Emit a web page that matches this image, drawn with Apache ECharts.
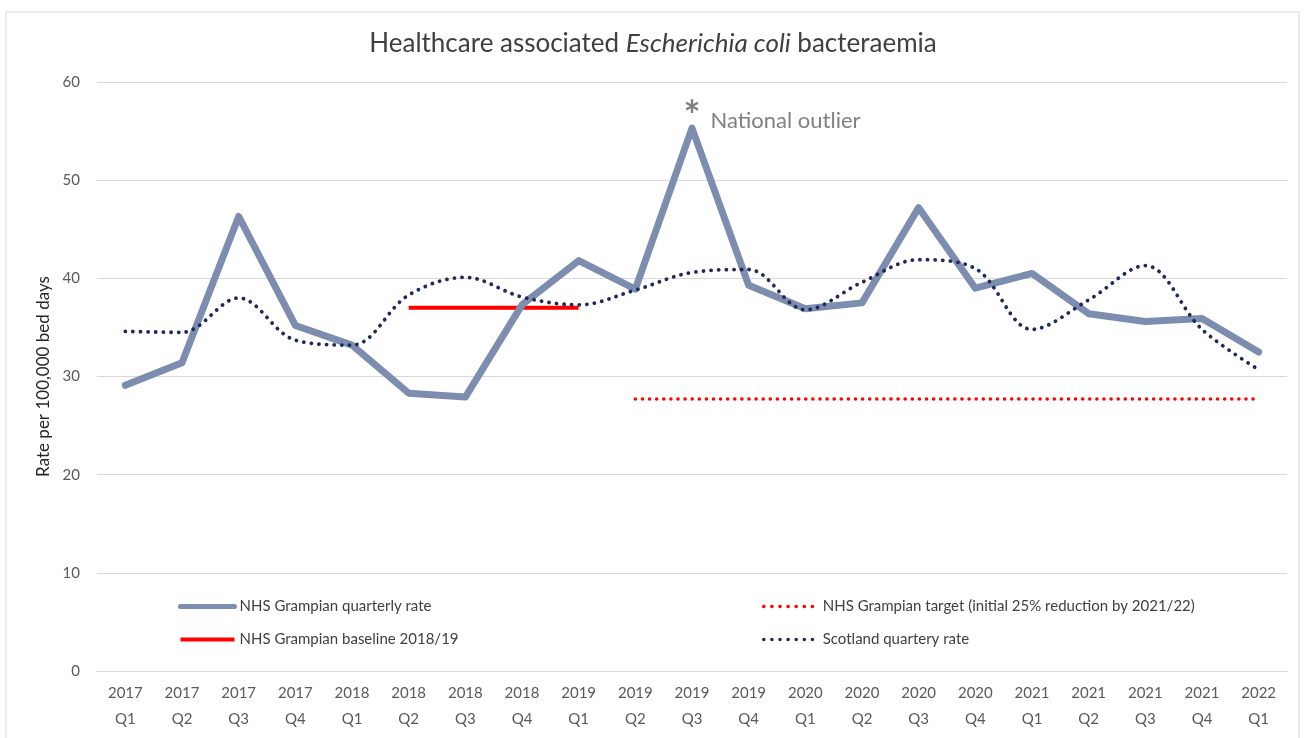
<!DOCTYPE html>
<html>
<head>
<meta charset="utf-8">
<script src="https://cdn.jsdelivr.net/npm/echarts@6/dist/echarts.min.js"></script>
<style>
  html, body { margin: 0; padding: 0; background: #ffffff; }
  #chart { width: 1306px; height: 738px; }
</style>
</head>
<body>
<div id="chart"></div>
<script>
const quarters = [
  '2017\nQ1', '2017\nQ2', '2017\nQ3', '2017\nQ4',
  '2018\nQ1', '2018\nQ2', '2018\nQ3', '2018\nQ4',
  '2019\nQ1', '2019\nQ2', '2019\nQ3', '2019\nQ4',
  '2020\nQ1', '2020\nQ2', '2020\nQ3', '2020\nQ4',
  '2021\nQ1', '2021\nQ2', '2021\nQ3', '2021\nQ4',
  '2022\nQ1'
]

// NHS Grampian quarterly rate (solid)
const grampianRate = [29.1, 31.4, 46.3, 35.2, 33.2, 28.3, 27.9, 37.3, 41.8, 38.9, 55.3,
  39.3, 36.9, 37.5, 47.2, 39.0, 40.5, 36.4, 35.6, 35.9, 32.5]

// Scotland quarterly rate (smoothed, dotted)
const scotlandRate = [34.6, 34.5, 38.0, 33.7, 33.2, 38.3, 40.1, 38.1, 37.3, 38.8, 40.6,
  40.9, 36.8, 39.6, 41.9, 41.0, 34.8, 37.8, 41.3, 34.8, 30.7]

// baseline 2018/19 spans 2018 Q2 .. 2019 Q1
const baselineRate = [null, null, null, null, null, 37.0, 37.0, 37.0, 37.0, null, null,
  null, null, null, null, null, null, null, null, null, null]

// target from 2019 Q2 onwards
const targetRate = [null, null, null, null, null, null, null, null, null, 27.7, 27.7,
  27.7, 27.7, 27.7, 27.7, 27.7, 27.7, 27.7, 27.7, 27.7, 27.7]

const yTicks = [0, 10, 20, 30, 40, 50, 60]
const outlierIndex = 10

const FONT = 'Lato, "Open Sans", sans-serif'
const GRAMPIAN = '#7d8db0'
const NAVY = '#1f2a5c'
const RED = '#ff0000'

const chart = echarts.init(document.getElementById('chart'))

const legendBase = {
  top: 599,
  padding: 0,
  orient: 'vertical',
  itemWidth: 54,
  itemHeight: 14,
  itemGap: 18,
  itemStyle: { opacity: 0 },
  textStyle: { color: '#404040', fontSize: 15, padding: [0, 0, 0, 0] },
}

chart.setOption({
  animation: false,
  backgroundColor: '#ffffff',
  textStyle: { fontFamily: FONT },
  title: {
    text: 'Healthcare associated {i|Escherichia coli} bacteraemia',
    left: 'center',
    top: 26,
    textStyle: {
      color: '#404040',
      fontSize: 26,
      fontWeight: 'normal',
      fontFamily: FONT,
      rich: {
        i: { fontStyle: 'italic', fontSize: 26, color: '#404040', fontFamily: FONT },
      },
    },
  },
  graphic: [
    {
      type: 'rect',
      shape: { x: 6, y: 12, width: 1293, height: 740 },
      style: { fill: 'none', stroke: '#d9d9d9', lineWidth: 1 },
      z: -1,
    },
  ],
  grid: { left: 97, right: 19, top: 82, bottom: 67 },
  legend: [
    Object.assign({}, legendBase, {
      left: 178,
      data: [
        { name: 'NHS Grampian quarterly rate', lineStyle: { width: 5, color: GRAMPIAN } },
        { name: 'NHS Grampian baseline 2018/19', lineStyle: { width: 4, color: RED } },
      ],
    }),
    Object.assign({}, legendBase, {
      left: 762,
      data: [
        { name: 'NHS Grampian target (initial 25% reduction by 2021/22)', lineStyle: { width: 3.5, color: RED, type: [0.1, 8], cap: 'round' } },
        { name: 'Scotland quartery rate', lineStyle: { width: 3.5, color: NAVY, type: [0.1, 8], cap: 'round' } },
      ],
    }),
  ],
  xAxis: {
    type: 'category',
    boundaryGap: true,
    data: quarters,
    axisLine: { lineStyle: { color: '#d9d9d9', width: 1 } },
    axisTick: { show: false },
    axisLabel: { color: '#595959', fontSize: 15, lineHeight: 26, margin: 9, interval: 0 },
  },
  yAxis: {
    type: 'value',
    min: yTicks[0],
    max: yTicks[yTicks.length - 1],
    interval: 10,
    name: 'Rate per 100,000 bed days',
    nameLocation: 'middle',
    nameGap: 44,
    nameTextStyle: { color: '#262626', fontSize: 17 },
    axisLine: { show: false },
    axisTick: { show: false },
    axisLabel: { color: '#595959', fontSize: 15, margin: 17 },
    splitLine: { lineStyle: { color: '#d9d9d9', width: 1 } },
  },
  series: [
    {
      name: 'NHS Grampian quarterly rate',
      type: 'line',
      data: grampianRate,
      symbol: 'none',
      z: 3,
      lineStyle: { color: GRAMPIAN, width: 7, cap: 'round', join: 'round' },
      itemStyle: { color: GRAMPIAN },
      markPoint: {
        symbol: 'circle',
        symbolSize: 1,
        itemStyle: { color: 'rgba(0,0,0,0)' },
        data: [
          {
            coord: [outlierIndex, grampianRate[outlierIndex]],
            label: {
              show: true,
              formatter: '*',
              position: 'inside',
              offset: [0, -11],
              color: '#808080',
              fontSize: 40,
              fontWeight: 'bold',
            },
          },
          {
            coord: [outlierIndex, grampianRate[outlierIndex]],
            label: {
              show: true,
              formatter: 'National outlier',
              position: 'right',
              offset: [13, -7],
              color: '#808080',
              fontSize: 22,
            },
          },
        ],
      },
    },
    {
      name: 'NHS Grampian baseline 2018/19',
      type: 'line',
      data: baselineRate,
      symbol: 'none',
      z: 2,
      lineStyle: { color: RED, width: 4 },
      itemStyle: { color: RED },
    },
    {
      name: 'NHS Grampian target (initial 25% reduction by 2021/22)',
      type: 'line',
      data: targetRate,
      symbol: 'none',
      z: 2,
      lineStyle: { color: RED, width: 3.5, type: [0.1, 7], cap: 'round' },
      itemStyle: { color: RED },
    },
    {
      name: 'Scotland quartery rate',
      type: 'line',
      data: scotlandRate,
      symbol: 'none',
      smooth: 0.35,
      z: 4,
      lineStyle: { color: NAVY, width: 3.8, type: [0.1, 7.5], cap: 'round' },
      itemStyle: { color: NAVY },
    },
  ],
})

window.addEventListener('resize', () => chart.resize())
</script>
</body>
</html>
